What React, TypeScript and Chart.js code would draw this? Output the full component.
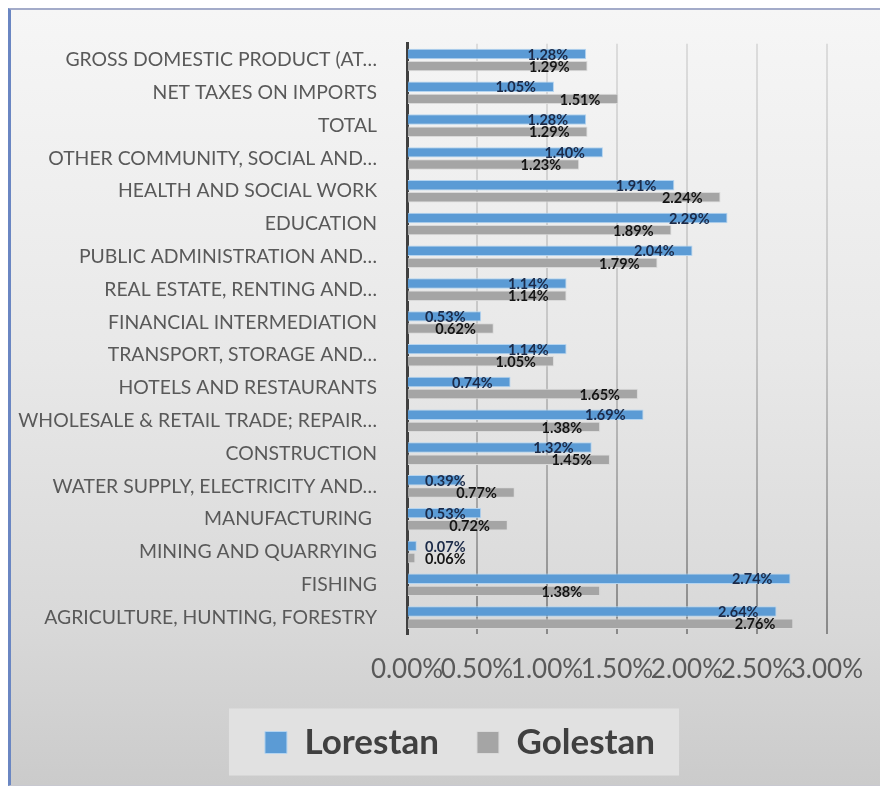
import React, { useEffect, useRef } from "react";
import { Chart, registerables } from "chart.js";

Chart.register(...registerables);

const categories = [
  "GROSS DOMESTIC PRODUCT (AT…",
  "NET TAXES ON IMPORTS",
  "TOTAL",
  "OTHER COMMUNITY, SOCIAL AND…",
  "HEALTH AND SOCIAL WORK",
  "EDUCATION",
  "PUBLIC ADMINISTRATION AND…",
  "REAL ESTATE, RENTING AND…",
  "FINANCIAL INTERMEDIATION",
  "TRANSPORT, STORAGE AND…",
  "HOTELS AND RESTAURANTS",
  "WHOLESALE & RETAIL TRADE; REPAIR…",
  "CONSTRUCTION",
  "WATER SUPPLY, ELECTRICITY AND…",
  "MANUFACTURING ",
  "MINING AND QUARRYING",
  "FISHING",
  "AGRICULTURE, HUNTING, FORESTRY",
];

const lorestan = [1.28, 1.05, 1.28, 1.4, 1.91, 2.29, 2.04, 1.14, 0.53, 1.14, 0.74, 1.69, 1.32, 0.39, 0.53, 0.07, 2.74, 2.64];
const golestan = [1.29, 1.51, 1.29, 1.23, 2.24, 1.89, 1.79, 1.14, 0.62, 1.05, 1.65, 1.38, 1.45, 0.77, 0.72, 0.06, 1.38, 2.76];

const xTicks = [0, 0.5, 1, 1.5, 2, 2.5, 3];

const labelPlugin = {
  id: "barLabels",
  afterDatasetsDraw(chart: any) {
    const ctx = chart.ctx;
    const zeroX = chart.scales.x.getPixelForValue(0);
    ctx.save();
    ctx.font = "bold 14.5px Lato";
    ctx.textBaseline = "middle";
    ctx.textAlign = "left";
    chart.data.datasets.forEach((ds: any, di: number) => {
      const meta = chart.getDatasetMeta(di);
      ctx.fillStyle = di === 0 ? "#1b2a48" : "#141414";
      meta.data.forEach((bar: any, i: number) => {
        const txt = ds.data[i].toFixed(2) + "%";
        const w = ctx.measureText(txt).width;
        let left = bar.x - 18 - w;
        if (left < zeroX + 18) left = zeroX + 18;
        ctx.fillText(txt, left, bar.y + 1);
      });
    });
    ctx.restore();
  },
};

const LEGEND_CENTER = 449;

const legendBgPlugin = {
  id: "legendBg",
  beforeDraw(chart: any) {
    const lg = chart.legend;
    if (!lg || !lg.legendHitBoxes || !lg.legendHitBoxes.length) return;
    const hb = lg.legendHitBoxes;
    if (!lg._shifted) {
      const first0 = hb[0];
      const last0 = hb[hb.length - 1];
      const center = (first0.left + last0.left + last0.width) / 2;
      const dx = LEGEND_CENTER - center;
      lg.left += dx;
      lg.right += dx;
      hb.forEach((h: any) => (h.left += dx));
      lg._shifted = true;
    }
    const first = hb[0];
    const last = hb[hb.length - 1];
    const cy = first.top + first.height / 2;
    const ctx = chart.ctx;
    ctx.save();
    ctx.fillStyle = "#e1e1e1";
    const x0 = first.left - 36;
    const x1 = last.left + last.width + 24;
    ctx.fillRect(x0, cy - 34, x1 - x0, 67);
    ctx.restore();
  },
};

export default function App() {
  const ref = useRef<HTMLCanvasElement>(null);
  useEffect(() => {
    if (!ref.current) return;
    Chart.defaults.font.family = "Lato";
    const chart = new Chart(ref.current, {
      type: "bar",
      data: {
        labels: categories,
        datasets: [
          {
            label: "Lorestan",
            data: lorestan,
            backgroundColor: "#5b9bd5",
            borderColor: "#b4d4f0",
            borderWidth: 1,
            categoryPercentage: 0.74,
            barPercentage: 0.86,
          },
          {
            label: "Golestan",
            data: golestan,
            backgroundColor: "#a5a5a5",
            borderColor: "#dadada",
            borderWidth: 1,
            categoryPercentage: 0.74,
            barPercentage: 0.86,
          },
        ],
      },
      options: {
        indexAxis: "y",
        animation: false,
        responsive: false,
        devicePixelRatio: 1,
        layout: { padding: { top: 33, left: 0, right: 56, bottom: 15 } },
        scales: {
          x: {
            min: 0,
            max: 3,
            afterBuildTicks: (scale: any) => {
              scale.ticks = xTicks.map((v) => ({ value: v }));
            },
            afterFit: (scale: any) => {
              scale.height = 53;
            },
            ticks: {
              autoSkip: false,
              maxRotation: 0,
              minRotation: 0,
              padding: 20,
              color: "#595959",
              font: { size: 26, family: "Lato" },
              callback: (v: any) => Number(v).toFixed(2) + "%",
            },
            grid: {
              drawTicks: false,
              lineWidth: 2,
              color: (c: any) => {
                const ch = c.chart;
                const ca = ch.chartArea;
                if (!ca) return "#bbbbbb";
                const g = ch.ctx.createLinearGradient(0, ca.top, 0, ca.bottom);
                g.addColorStop(0, "#dcdcdc");
                g.addColorStop(0.5, "#c6c6c6");
                g.addColorStop(0.8, "#a4a4a4");
                g.addColorStop(1, "#888888");
                return g;
              },
            },
            border: { display: false },
          },
          y: {
            afterFit: (scale: any) => {
              scale.width = 396;
            },
            ticks: {
              padding: 22,
              color: "#595959",
              font: { size: 19.4, family: "Lato" },
            },
            grid: { display: false },
            border: { display: true, color: "#404040", width: 3 },
          },
        },
        plugins: {
          legend: {
            position: "bottom",
            labels: {
              boxWidth: 22,
              boxHeight: 22,
              padding: 38,
              color: "#404040",
              font: { size: 35, weight: "bold", family: "Lato" },
            },
          },
          tooltip: { enabled: false },
        },
      },
      plugins: [labelPlugin, legendBgPlugin],
    } as any);
    return () => chart.destroy();
  }, []);

  return (
    <div
      style={{
        width: 872,
        height: 775,
        borderLeft: "3px solid #6a86c2",
        borderTop: "2px solid #a3abc9",
        borderRight: "1px solid #d6d0d8",
        borderBottom: "1px solid #c8c8d0",
        background: "linear-gradient(180deg, #f6f6f6 0%, #e8e8e8 45%, #d8d8d8 80%, #cbcbcb 100%)",
      }}
    >
      <canvas ref={ref} width={872} height={775} style={{ display: "block" }} />
    </div>
  );
}
